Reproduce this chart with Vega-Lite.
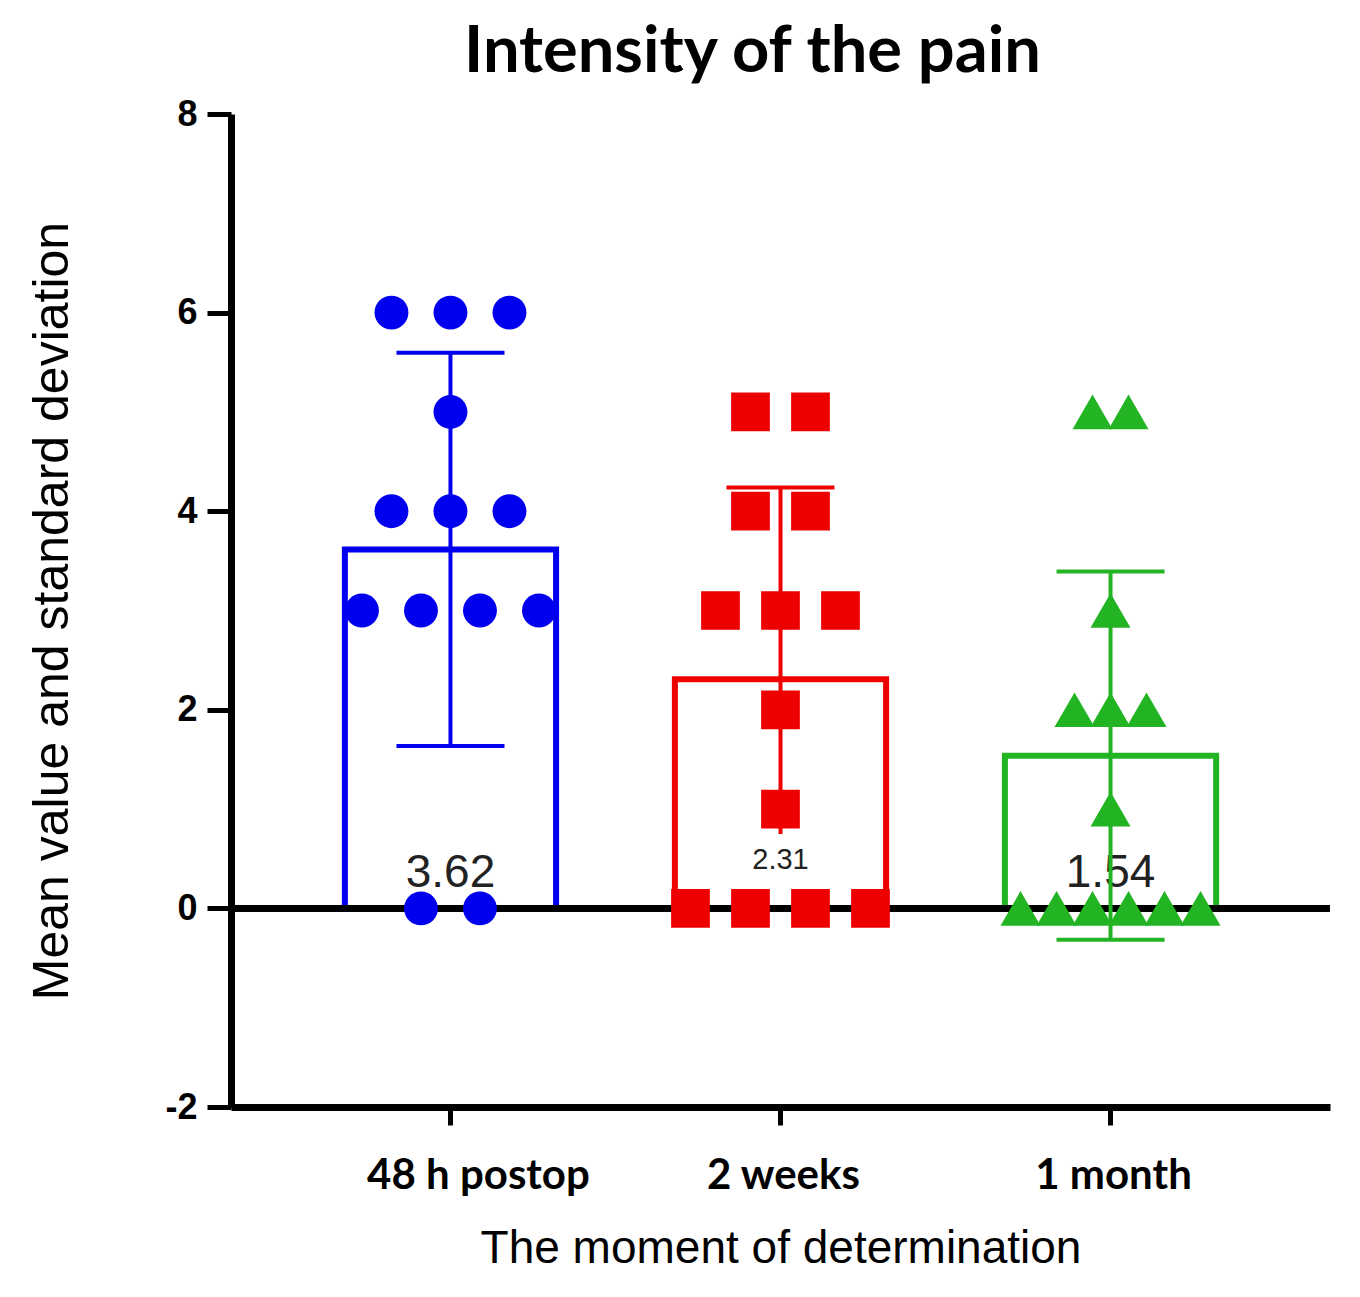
{
  "$schema": "https://vega.github.io/schema/vega-lite/v6.json",
  "width": 1099,
  "height": 993,
  "autosize": {"type": "none"},
  "padding": {"left": 231, "top": 114, "right": 30, "bottom": 190},
  "background": "white",
  "title": {"text": "Intensity of the pain", "font": "Lato", "fontSize": 65, "fontWeight": "bold", "color": "black", "anchor": "middle", "frame": "group", "dx": -28, "offset": -41, "baseline": "alphabetic"},
  "data": {"values": [
    {"moment": "48 h postop", "value": 6}, {"moment": "48 h postop", "value": 6}, {"moment": "48 h postop", "value": 6},
    {"moment": "48 h postop", "value": 5},
    {"moment": "48 h postop", "value": 4}, {"moment": "48 h postop", "value": 4}, {"moment": "48 h postop", "value": 4},
    {"moment": "48 h postop", "value": 3}, {"moment": "48 h postop", "value": 3}, {"moment": "48 h postop", "value": 3}, {"moment": "48 h postop", "value": 3},
    {"moment": "48 h postop", "value": 0}, {"moment": "48 h postop", "value": 0},
    {"moment": "2 weeks", "value": 5}, {"moment": "2 weeks", "value": 5},
    {"moment": "2 weeks", "value": 4}, {"moment": "2 weeks", "value": 4},
    {"moment": "2 weeks", "value": 3}, {"moment": "2 weeks", "value": 3}, {"moment": "2 weeks", "value": 3},
    {"moment": "2 weeks", "value": 2},
    {"moment": "2 weeks", "value": 1},
    {"moment": "2 weeks", "value": 0}, {"moment": "2 weeks", "value": 0}, {"moment": "2 weeks", "value": 0}, {"moment": "2 weeks", "value": 0},
    {"moment": "1 month", "value": 5}, {"moment": "1 month", "value": 5},
    {"moment": "1 month", "value": 3},
    {"moment": "1 month", "value": 2}, {"moment": "1 month", "value": 2}, {"moment": "1 month", "value": 2},
    {"moment": "1 month", "value": 1},
    {"moment": "1 month", "value": 0}, {"moment": "1 month", "value": 0}, {"moment": "1 month", "value": 0},
    {"moment": "1 month", "value": 0}, {"moment": "1 month", "value": 0}, {"moment": "1 month", "value": 0}
  ]},
  "encoding": {
    "x": {
      "field": "moment", "type": "nominal", "sort": ["48 h postop", "2 weeks", "1 month"],
      "scale": {"paddingInner": 0.36, "paddingOuter": 0.345},
      "title": "The moment of determination",
      "axis": {
        "labelAngle": 0, "labelFont": "Lato", "labelFontSize": 42, "labelFontWeight": "bold", "labelColor": "black",
        "labelPadding": 30, "labelLimit": 500,
        "labelOffset": {"condition": {"test": "datum.value == '48 h postop'", "value": 28}, "value": 3},
        "tickSize": 18, "tickWidth": 5, "tickColor": "black", "domainColor": "black", "domainWidth": 7,
        "titleFont": "Liberation Sans", "titleFontSize": 46, "titleFontWeight": "normal", "titleColor": "black", "titlePadding": 30
      }
    }
  },
  "layer": [
    {
      "mark": {"type": "bar", "fill": "white", "strokeWidth": 6},
      "encoding": {
        "y": {
          "aggregate": "mean", "field": "value", "type": "quantitative",
          "scale": {"domain": [-2, 8], "nice": false, "zero": false},
          "title": "Mean value and standard deviation",
          "axis": {
            "values": [-2, 0, 2, 4, 6, 8], "grid": false, "format": "d",
            "labelExpr": "datum.value < 0 ? '-' + abs(datum.value) : '' + datum.value",
            "labelFont": "Liberation Sans", "labelFontSize": 36, "labelFontWeight": "bold", "labelColor": "black", "labelPadding": 10,
            "tickSize": 24, "tickWidth": 5, "tickColor": "black", "domainColor": "black", "domainWidth": 7,
            "titleFont": "Liberation Sans", "titleFontSize": 50, "titleFontWeight": "normal", "titleColor": "black", "titlePadding": 87
          }
        },
        "stroke": {"field": "moment", "type": "nominal", "scale": {"domain": ["48 h postop", "2 weeks", "1 month"], "range": ["#0000ee", "#ee0000", "#22b422"]}, "legend": null}
      }
    },
    {
      "transform": [
        {"filter": "datum.moment != '2 weeks'"},
        {"aggregate": [{"op": "mean", "field": "value", "as": "mean_value"}], "groupby": ["moment"]}
      ],
      "mark": {"type": "text", "font": "Liberation Sans", "fontSize": 46, "color": "#222222", "baseline": "alphabetic"},
      "encoding": {
        "y": {"datum": 0.22, "type": "quantitative", "scale": {"domain": [-2, 8], "nice": false, "zero": false}, "title": "Mean value and standard deviation"},
        "text": {"field": "mean_value", "type": "quantitative", "format": ".2f"}
      }
    },
    {
      "mark": {"type": "rule", "color": "black", "strokeWidth": 6},
      "encoding": {
        "x": {"value": 0},
        "x2": {"value": "width"},
        "y": {"datum": 0, "type": "quantitative", "scale": {"domain": [-2, 8], "nice": false, "zero": false}, "title": "Mean value and standard deviation"}
      }
    },
    {
      "mark": {"type": "errorbar", "extent": "stdev", "ticks": true, "size": 108, "thickness": 4, "opacity": 1},
      "encoding": {
        "y": {"field": "value", "type": "quantitative", "scale": {"domain": [-2, 8], "nice": false, "zero": false}, "title": "Mean value and standard deviation"},
        "color": {"field": "moment", "type": "nominal", "scale": {"domain": ["48 h postop", "2 weeks", "1 month"], "range": ["#0000ee", "#ee0000", "#22b422"]}, "legend": null}
      }
    },
    {
      "transform": [
        {"filter": "datum.moment == '2 weeks'"},
        {"aggregate": [{"op": "mean", "field": "value", "as": "mean_value"}], "groupby": ["moment"]}
      ],
      "layer": [
        {
          "mark": {"type": "bar", "fill": "white", "width": 124},
          "encoding": {
            "y": {"datum": 0.18, "type": "quantitative", "scale": {"domain": [-2, 8], "nice": false, "zero": false}, "title": "Mean value and standard deviation"},
            "y2": {"datum": 0.75}
          }
        },
        {
          "mark": {"type": "text", "font": "Liberation Sans", "fontSize": 29, "color": "#222222", "baseline": "alphabetic"},
          "encoding": {
            "y": {"datum": 0.4, "type": "quantitative", "scale": {"domain": [-2, 8], "nice": false, "zero": false}, "title": "Mean value and standard deviation"},
            "text": {"field": "mean_value", "type": "quantitative", "format": ".2f"}
          }
        }
      ]
    },
    {
      "transform": [
        {"filter": "datum.moment == '48 h postop'"},
        {"window": [{"op": "row_number", "as": "k"}, {"op": "count", "as": "n"}], "groupby": ["value"], "frame": [null, null]},
        {"calculate": "datum.k - (datum.n + 1) / 2", "as": "slot"}
      ],
      "mark": {"type": "point", "shape": "circle", "filled": true, "size": 1150, "color": "#0000ee", "opacity": 1},
      "encoding": {
        "y": {"field": "value", "type": "quantitative", "scale": {"domain": [-2, 8], "nice": false, "zero": false}, "title": "Mean value and standard deviation"},
        "xOffset": {"field": "slot", "type": "quantitative", "scale": {"domain": [-1, 1], "range": [46.6, 164.6]}}
      }
    },
    {
      "transform": [
        {"filter": "datum.moment == '2 weeks'"},
        {"window": [{"op": "row_number", "as": "k"}, {"op": "count", "as": "n"}], "groupby": ["value"], "frame": [null, null]},
        {"calculate": "datum.k - (datum.n + 1) / 2", "as": "slot"}
      ],
      "mark": {"type": "point", "shape": "square", "filled": true, "size": 1500, "color": "#ee0000", "opacity": 1},
      "encoding": {
        "y": {"field": "value", "type": "quantitative", "scale": {"domain": [-2, 8], "nice": false, "zero": false}, "title": "Mean value and standard deviation"},
        "xOffset": {"field": "slot", "type": "quantitative", "scale": {"domain": [-1, 1], "range": [45.6, 165.6]}}
      }
    },
    {
      "transform": [
        {"filter": "datum.moment == '1 month'"},
        {"window": [{"op": "row_number", "as": "k"}, {"op": "count", "as": "n"}], "groupby": ["value"], "frame": [null, null]},
        {"calculate": "datum.k - (datum.n + 1) / 2", "as": "slot"}
      ],
      "mark": {"type": "point", "shape": "triangle-up", "filled": true, "size": 1600, "color": "#22b422", "opacity": 1},
      "encoding": {
        "y": {"field": "value", "type": "quantitative", "scale": {"domain": [-2, 8], "nice": false, "zero": false}, "title": "Mean value and standard deviation"},
        "xOffset": {"field": "slot", "type": "quantitative", "scale": {"domain": [-1, 1], "range": [69.6, 141.6]}}
      }
    }
  ],
  "resolve": {"scale": {"xOffset": "independent"}},
  "config": {"view": {"stroke": null}}
}
